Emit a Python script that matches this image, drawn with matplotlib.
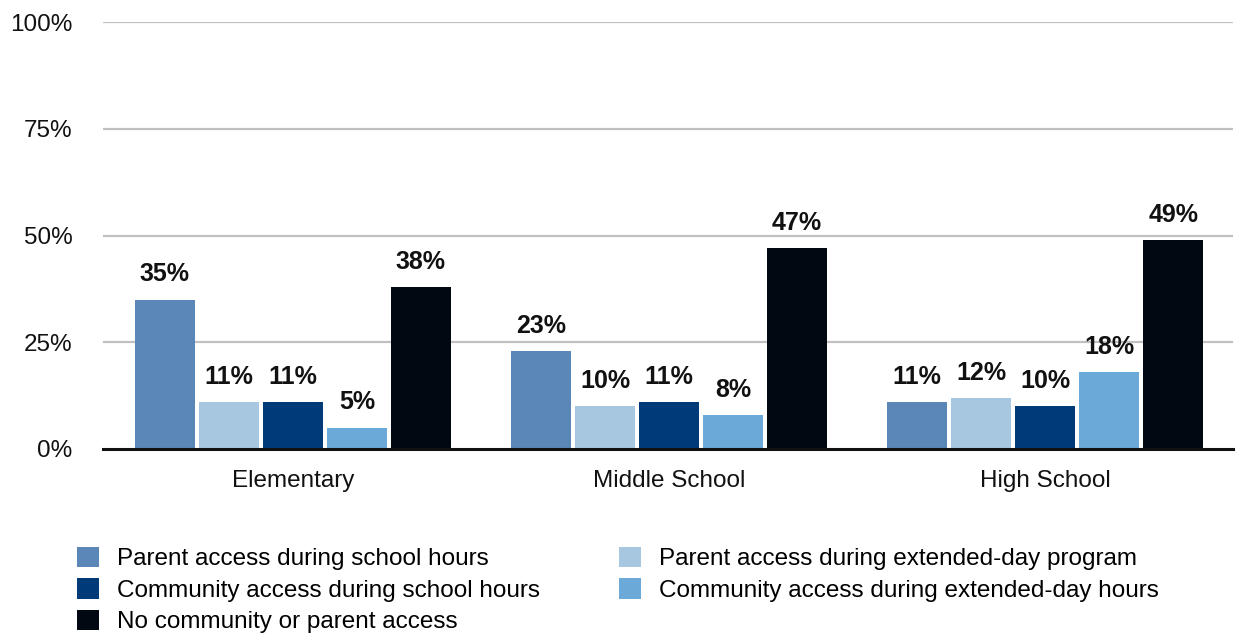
import matplotlib
matplotlib.use("Agg")
import matplotlib.pyplot as plt
import numpy as np

plt.rcParams["font.family"] = ["Liberation Sans", "DejaVu Sans"]

categories = ["Elementary", "Middle School", "High School"]
series = [
    "Parent access during school hours",
    "Parent access during extended-day program",
    "Community access during school hours",
    "Community access during extended-day hours",
    "No community or parent access",
]
parent_school = [35, 23, 11]
parent_extended = [11, 10, 12]
community_school = [11, 11, 10]
community_extended = [5, 8, 18]
no_access = [38, 47, 49]
values = [parent_school, parent_extended, community_school, community_extended, no_access]
colors = ["#5b87b8", "#a7c7e1", "#003a78", "#6aa9d8", "#020812"]
yticks = [0, 25, 50, 75, 100]

fig = plt.figure(figsize=(12.36, 6.33), dpi=100)
ax = fig.add_axes([0.0833, 0.2907, 0.9144, 0.6745])

x = np.arange(len(categories))
width = 0.1596
step = 0.1702
bars = []
for i, (vals, col, name) in enumerate(zip(values, colors, series)):
    b = ax.bar(x + (i - 2) * step, vals, width, color=col, label=name, zorder=3)
    bars.append(b)
    for rect, v in zip(b, vals):
        ax.annotate(f"{v}%", (rect.get_x() + rect.get_width() / 2, v),
                    xytext=(0, 9.5), textcoords="offset points",
                    ha="center", va="bottom", fontsize=18, fontweight="bold",
                    color="#111111", zorder=4)

ax.set_xlim(-0.505, 2.5)
ax.set_ylim(0, 100)
ax.set_yticks(yticks)
ax.set_yticklabels([f"{t}%" for t in yticks])
ax.set_xticks(x)
ax.set_xticklabels(categories)
ax.tick_params(axis="both", length=0, labelsize=17.5, colors="#111111")
ax.tick_params(axis="y", pad=22)
ax.tick_params(axis="x", pad=15)

for t in yticks[1:]:
    ax.axhline(t, color="#c0c0c0", lw=1.6, zorder=1)
for s in ["top", "right", "left"]:
    ax.spines[s].set_visible(False)
ax.spines["bottom"].set_linewidth(2.2)
ax.spines["bottom"].set_color("#111111")
ax.spines["bottom"].set_zorder(5)

# row-major legend: reorder so the columns fill as two side-by-side lists
order = [0, 2, 4, 1, 3]
fig.legend([bars[i] for i in order], [series[i] for i in order],
           loc="upper left", bbox_to_anchor=(0.0623, 0.136), ncol=2,
           frameon=False, fontsize=17.5, handlelength=0.9, handleheight=0.9,
           handletextpad=0.74, columnspacing=3.25, labelspacing=0.33,
           borderaxespad=0, borderpad=0)

fig.savefig("out.png", dpi=100)
